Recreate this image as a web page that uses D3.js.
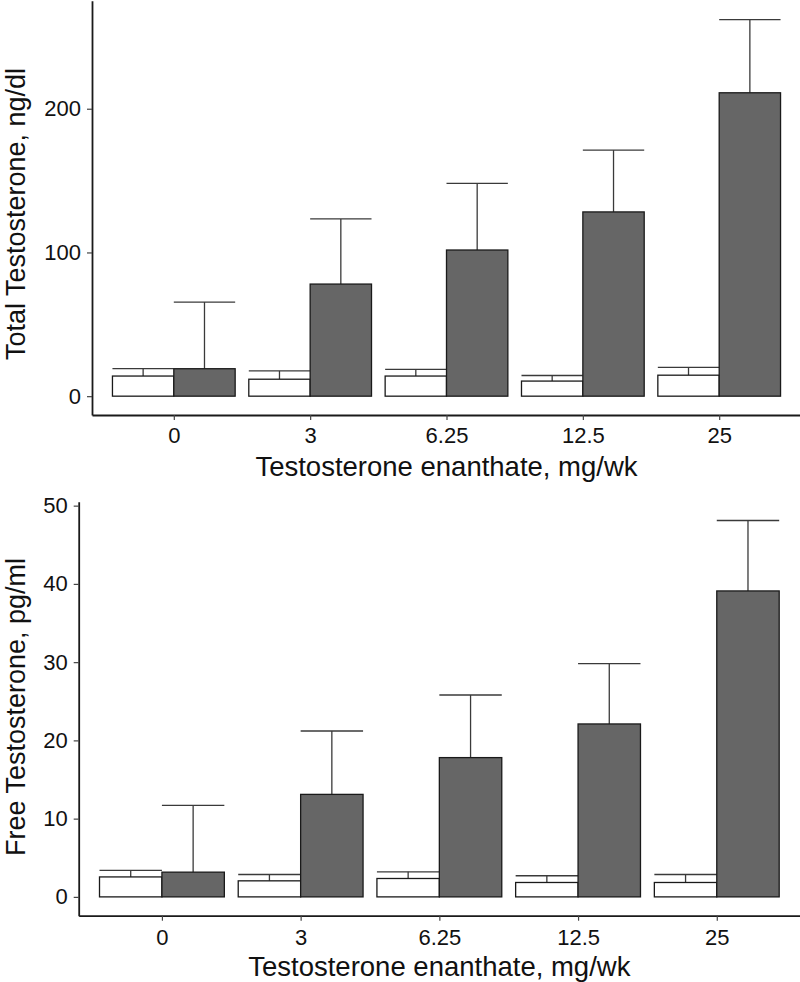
<!DOCTYPE html>
<html>
<head>
<meta charset="utf-8">
<script src="https://cdn.jsdelivr.net/npm/d3@7"></script>
<style>
  html, body { margin: 0; padding: 0; background: #fff; }
  svg { display: block; }
  text { font-family: "Liberation Sans", Arial, sans-serif; fill: #111; }
</style>
</head>
<body>
<svg id="chart" width="800" height="982"></svg>
<script>
// ---- data ----
const doses = ["0", "3", "6.25", "12.5", "25"];

// Total testosterone, ng/dl (mean and mean+SE)
const totalPlacebo      = [14.0, 11.8, 14.0, 10.5, 14.6];
const totalPlaceboUpper = [19.1, 17.6, 18.6, 14.4, 20.0];
const totalTE           = [19.1, 78.0, 101.7, 128.2, 211.1];
const totalTEUpper      = [65.5, 123.3, 148.0, 171.2, 262.0];
const totalTicks        = [0, 100, 200];

// Free testosterone, pg/ml (mean and mean+SE)
const freePlacebo       = [2.55, 2.05, 2.35, 1.84, 1.84];
const freePlaceboUpper  = [3.4, 2.86, 3.2, 2.7, 2.86];
const freeTE            = [3.16, 13.1, 17.8, 22.1, 39.1];
const freeTEUpper       = [11.7, 21.2, 25.8, 29.8, 48.1];
const freeTicks         = [0, 10, 20, 30, 40, 50];

const xTitle = "Testosterone enanthate, mg/wk";

const svg = d3.select("#chart");

function drawPanel(cfg) {
  const g = svg.append("g");
  const x = d3.scalePoint().domain(doses).range([cfg.left, cfg.right]).padding(0.6);
  const step = x.step();
  const maxV = d3.max([...cfg.placeboUpper, ...cfg.teUpper]);
  const y = d3.scaleLinear()
    .domain([-0.05 * maxV, maxV * 1.05])
    .range([cfg.bottom, cfg.top]);
  const bw = step * 0.45;

  const rows = doses.map((d, i) => ({
    d,
    p: cfg.placebo[i], pu: cfg.placeboUpper[i],
    t: cfg.te[i], tu: cfg.teUpper[i]
  }));

  // error bars (upper only)
  const eb = g.append("g").attr("stroke", "#3a3a3a").attr("stroke-width", 1.3).attr("fill", "none");
  rows.forEach(r => {
    const cx = x(r.d);
    const pc = cx - bw / 2, tc = cx + bw / 2;
    eb.append("line").attr("x1", pc).attr("x2", pc).attr("y1", y(r.p)).attr("y2", y(r.pu));
    eb.append("line").attr("x1", cx - bw).attr("x2", cx).attr("y1", y(r.pu)).attr("y2", y(r.pu));
    eb.append("line").attr("x1", tc).attr("x2", tc).attr("y1", y(r.t)).attr("y2", y(r.tu));
    eb.append("line").attr("x1", cx).attr("x2", cx + bw).attr("y1", y(r.tu)).attr("y2", y(r.tu));
  });

  // bars
  const bars = g.append("g").attr("stroke", "#1a1a1a").attr("stroke-width", 1.3);
  bars.selectAll("rect.p").data(rows).join("rect")
    .attr("class", "p")
    .attr("x", r => x(r.d) - bw)
    .attr("width", bw)
    .attr("y", r => y(r.p))
    .attr("height", r => y(0) - y(r.p))
    .attr("fill", "#ffffff");
  bars.selectAll("rect.t").data(rows).join("rect")
    .attr("class", "t")
    .attr("x", r => x(r.d))
    .attr("width", bw)
    .attr("y", r => y(r.t))
    .attr("height", r => y(0) - y(r.t))
    .attr("fill", "#666666");

  // axes
  const ya = g.append("g").attr("transform", `translate(${cfg.left},0)`)
    .call(d3.axisLeft(y).tickValues(cfg.ticks).tickSize(5).tickSizeOuter(0).tickPadding(6).tickFormat(d3.format("d")));
  const xa = g.append("g").attr("transform", `translate(0,${cfg.bottom})`)
    .call(d3.axisBottom(x).tickSize(5).tickSizeOuter(0).tickPadding(7));
  [ya, xa].forEach(a => {
    a.select(".domain").attr("stroke", "#1a1a1a").attr("stroke-width", 1.8);
    a.selectAll(".tick line").attr("stroke", "#444").attr("stroke-width", 1.2);
    a.selectAll(".tick text").attr("font-size", 22).attr("fill", "#111")
      .attr("font-family", "'Liberation Sans', Arial, sans-serif");
  });
  xa.selectAll(".tick text").attr("dy", null).attr("y", cfg.tickBaseline - cfg.bottom);

  // titles
  g.append("text")
    .attr("x", (cfg.left + cfg.right) / 2)
    .attr("y", cfg.xTitleBaseline)
    .attr("text-anchor", "middle")
    .attr("font-size", 27.5)
    .text(xTitle);
  g.append("text")
    .attr("transform", `translate(${cfg.yTitleX},${cfg.yTitleCenter}) rotate(-90)`)
    .attr("text-anchor", "middle")
    .attr("font-size", 27)
    .text(cfg.yTitle);
}

drawPanel({
  left: 92, right: 801, top: 0.8, bottom: 415,
  placebo: totalPlacebo, placeboUpper: totalPlaceboUpper,
  te: totalTE, teUpper: totalTEUpper, ticks: totalTicks,
  tickBaseline: 443, xTitleBaseline: 476,
  yTitle: "Total Testosterone, ng/dl", yTitleX: 25, yTitleCenter: 214
});

drawPanel({
  left: 78.7, right: 800, top: 501.7, bottom: 915.7,
  placebo: freePlacebo, placeboUpper: freePlaceboUpper,
  te: freeTE, teUpper: freeTEUpper, ticks: freeTicks,
  tickBaseline: 945, xTitleBaseline: 976,
  yTitle: "Free Testosterone, pg/ml", yTitleX: 25, yTitleCenter: 707
});
</script>
</body>
</html>
